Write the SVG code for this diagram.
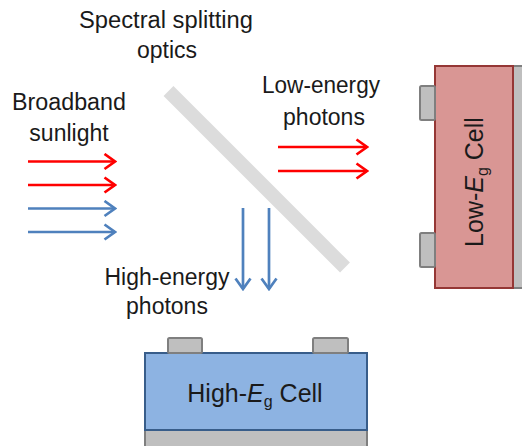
<svg xmlns="http://www.w3.org/2000/svg" width="522" height="446" viewBox="0 0 522 446">
<style>
  .t { font-family: "Liberation Sans", Arial, sans-serif; font-size: 23px; fill: #1a1a1a; text-anchor: middle; }
  .c { font-size: 25px; }
  .red { stroke: #ff0000; stroke-width: 2.7; fill: none; }
  .blue { stroke: #4f81bd; stroke-width: 2.7; fill: none; }
  .gray { fill: #bfbfbf; stroke: #7f7f7f; stroke-width: 2; }
</style>
<defs>
  <marker id="ar" viewBox="0 0 14 18" refX="12" refY="9" markerWidth="14" markerHeight="18" markerUnits="userSpaceOnUse" orient="auto">
    <path d="M1.5,1.5 L12,9 L1.5,16.5" fill="none" stroke="#ff0000" stroke-width="2.7"/>
  </marker>
  <marker id="ab" viewBox="0 0 14 18" refX="12" refY="9" markerWidth="14" markerHeight="18" markerUnits="userSpaceOnUse" orient="auto">
    <path d="M1.5,1.5 L12,9 L1.5,16.5" fill="none" stroke="#4f81bd" stroke-width="2.7"/>
  </marker>
</defs>

<g id="optics">
  <line x1="168.5" y1="91" x2="345" y2="267.5" stroke="#dcdcdc" stroke-width="14"/>
  <text class="t" x="166" y="28" textLength="174" lengthAdjust="spacingAndGlyphs">Spectral splitting</text>
  <text class="t" x="167" y="58">optics</text>
</g>

<g id="sunlight">
  <text class="t" x="69" y="110" textLength="114" lengthAdjust="spacingAndGlyphs">Broadband</text>
  <text class="t" x="69" y="141">sunlight</text>
</g>

<g id="low-label">
  <text class="t" x="321" y="93" textLength="118" lengthAdjust="spacingAndGlyphs">Low-energy</text>
  <text class="t" x="324" y="125">photons</text>
</g>

<g id="high-label">
  <text class="t" x="167" y="285" textLength="125" lengthAdjust="spacingAndGlyphs">High-energy</text>
  <text class="t" x="167" y="314">photons</text>
</g>

<g id="connectors">
  <line class="red" x1="28" y1="161.5" x2="115" y2="161.5" marker-end="url(#ar)"/>
  <line class="red" x1="28" y1="185" x2="115" y2="185" marker-end="url(#ar)"/>
  <line class="blue" x1="28" y1="208.5" x2="115" y2="208.5" marker-end="url(#ab)"/>
  <line class="blue" x1="28" y1="232" x2="115" y2="232" marker-end="url(#ab)"/>
  <line class="red" x1="278" y1="147" x2="367" y2="147" marker-end="url(#ar)"/>
  <line class="red" x1="278" y1="171" x2="367" y2="171" marker-end="url(#ar)"/>
  <line class="blue" x1="243" y1="208" x2="243" y2="289" marker-end="url(#ab)"/>
  <line class="blue" x1="269" y1="208" x2="269" y2="289" marker-end="url(#ab)"/>
</g>

<g id="low-cell">
  <rect class="gray" x="513" y="66" width="12" height="222"/>
  <rect x="435" y="66" width="78" height="222" fill="#d99694" stroke="#953735" stroke-width="2"/>
  <rect class="gray" x="420" y="86" width="15" height="34" rx="1.5"/>
  <rect class="gray" x="420" y="233" width="15" height="34" rx="1.5"/>
  <text class="t c" transform="translate(483,182) rotate(-90)">Low-<tspan font-style="italic">E</tspan><tspan font-size="16" dy="5">g</tspan><tspan dy="-5"> Cell</tspan></text>
</g>

<g id="high-cell">
  <rect class="gray" x="145" y="430" width="222" height="20"/>
  <rect x="145" y="353" width="222" height="77" fill="#8db3e2" stroke="#385d8a" stroke-width="2"/>
  <rect class="gray" x="168" y="338" width="34" height="15" rx="1.5"/>
  <rect class="gray" x="313" y="338" width="35" height="15" rx="1.5"/>
  <text class="t c" x="255" y="402">High-<tspan font-style="italic">E</tspan><tspan font-size="16" dy="5">g</tspan><tspan dy="-5"> Cell</tspan></text>
</g>
</svg>
